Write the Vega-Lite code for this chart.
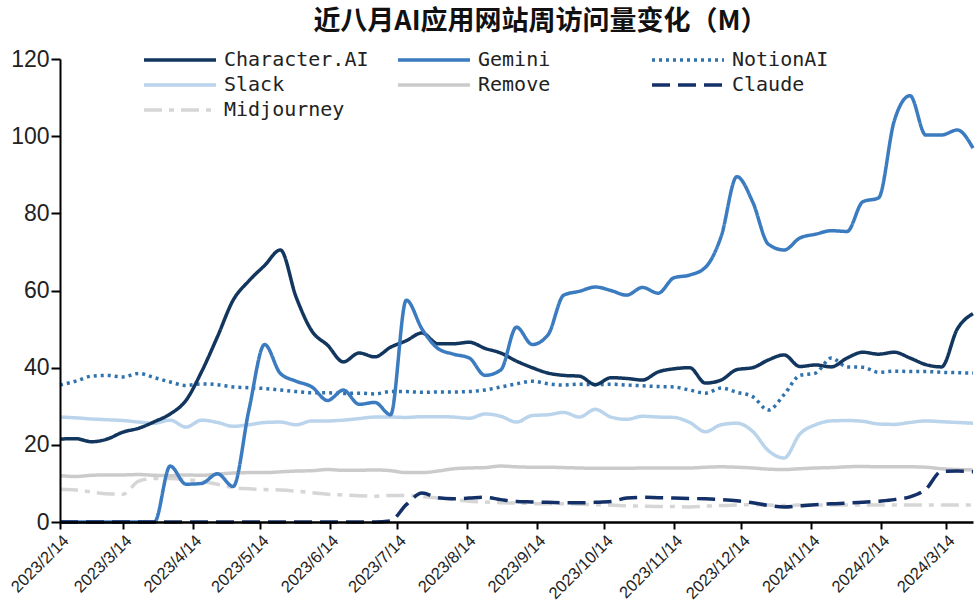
{
"$schema":"https://vega.github.io/schema/vega-lite/v6.json",
"width":913,"height":463,
"autosize":{"type":"none"},
"padding":{"left":60,"top":59,"right":3,"bottom":85},
"background":"white",
"title":{"text":"近八月AI应用网站周访问量变化（M）","font":"Noto Sans CJK SC","fontSize":27,"fontWeight":"bold","color":"#111111","anchor":"middle","frame":"group","dx":24,"offset":12},
"config":{"view":{"stroke":null},"font":"Liberation Sans"},
"data":{"values":[
{"d":"2023-02-14","s":"Midjourney","v":8.5},{"d":"2023-02-21","s":"Midjourney","v":8.3},{"d":"2023-02-28","s":"Midjourney","v":7.8},{"d":"2023-03-07","s":"Midjourney","v":7.3},{"d":"2023-03-14","s":"Midjourney","v":7.2},{"d":"2023-03-21","s":"Midjourney","v":10.6},{"d":"2023-03-28","s":"Midjourney","v":11.3},{"d":"2023-04-04","s":"Midjourney","v":11.3},{"d":"2023-04-11","s":"Midjourney","v":11},{"d":"2023-04-18","s":"Midjourney","v":10.5},{"d":"2023-04-25","s":"Midjourney","v":9.8},{"d":"2023-05-02","s":"Midjourney","v":8.9},{"d":"2023-05-09","s":"Midjourney","v":8.6},{"d":"2023-05-16","s":"Midjourney","v":8.4},{"d":"2023-05-23","s":"Midjourney","v":8.3},{"d":"2023-05-30","s":"Midjourney","v":8},{"d":"2023-06-06","s":"Midjourney","v":7.6},{"d":"2023-06-13","s":"Midjourney","v":7.2},{"d":"2023-06-20","s":"Midjourney","v":7},{"d":"2023-06-27","s":"Midjourney","v":6.8},{"d":"2023-07-04","s":"Midjourney","v":6.7},{"d":"2023-07-11","s":"Midjourney","v":6.9},{"d":"2023-07-18","s":"Midjourney","v":6.9},{"d":"2023-07-25","s":"Midjourney","v":6.6},{"d":"2023-08-01","s":"Midjourney","v":6.2},{"d":"2023-08-08","s":"Midjourney","v":5.8},{"d":"2023-08-15","s":"Midjourney","v":5.4},{"d":"2023-08-22","s":"Midjourney","v":5.2},{"d":"2023-08-29","s":"Midjourney","v":5},{"d":"2023-09-05","s":"Midjourney","v":4.9},{"d":"2023-09-12","s":"Midjourney","v":4.8},{"d":"2023-09-19","s":"Midjourney","v":4.7},{"d":"2023-09-26","s":"Midjourney","v":4.7},{"d":"2023-10-03","s":"Midjourney","v":4.6},{"d":"2023-10-10","s":"Midjourney","v":4.5},{"d":"2023-10-17","s":"Midjourney","v":4.4},{"d":"2023-10-24","s":"Midjourney","v":4.2},{"d":"2023-10-31","s":"Midjourney","v":4.1},{"d":"2023-11-07","s":"Midjourney","v":4},{"d":"2023-11-14","s":"Midjourney","v":4},{"d":"2023-11-21","s":"Midjourney","v":3.9},{"d":"2023-11-28","s":"Midjourney","v":4.1},{"d":"2023-12-05","s":"Midjourney","v":4.3},{"d":"2023-12-12","s":"Midjourney","v":4.4},{"d":"2023-12-19","s":"Midjourney","v":4.5},{"d":"2023-12-26","s":"Midjourney","v":4.4},{"d":"2024-01-02","s":"Midjourney","v":4.3},{"d":"2024-01-09","s":"Midjourney","v":4.4},{"d":"2024-01-16","s":"Midjourney","v":4.4},{"d":"2024-01-23","s":"Midjourney","v":4.4},{"d":"2024-01-30","s":"Midjourney","v":4.4},{"d":"2024-02-06","s":"Midjourney","v":4.4},{"d":"2024-02-13","s":"Midjourney","v":4.4},{"d":"2024-02-20","s":"Midjourney","v":4.4},{"d":"2024-02-27","s":"Midjourney","v":4.4},{"d":"2024-03-05","s":"Midjourney","v":4.4},{"d":"2024-03-12","s":"Midjourney","v":4.4},{"d":"2024-03-19","s":"Midjourney","v":4.4},{"d":"2024-03-26","s":"Midjourney","v":4.4},
{"d":"2023-02-14","s":"Remove","v":12},{"d":"2023-02-21","s":"Remove","v":11.8},{"d":"2023-02-28","s":"Remove","v":12.1},{"d":"2023-03-07","s":"Remove","v":12.2},{"d":"2023-03-14","s":"Remove","v":12.2},{"d":"2023-03-21","s":"Remove","v":12.3},{"d":"2023-03-28","s":"Remove","v":12.1},{"d":"2023-04-04","s":"Remove","v":12},{"d":"2023-04-11","s":"Remove","v":12.2},{"d":"2023-04-18","s":"Remove","v":12.1},{"d":"2023-04-25","s":"Remove","v":12.4},{"d":"2023-05-02","s":"Remove","v":12.7},{"d":"2023-05-09","s":"Remove","v":12.8},{"d":"2023-05-16","s":"Remove","v":12.8},{"d":"2023-05-23","s":"Remove","v":13},{"d":"2023-05-30","s":"Remove","v":13.2},{"d":"2023-06-06","s":"Remove","v":13.3},{"d":"2023-06-13","s":"Remove","v":13.6},{"d":"2023-06-20","s":"Remove","v":13.4},{"d":"2023-06-27","s":"Remove","v":13.4},{"d":"2023-07-04","s":"Remove","v":13.5},{"d":"2023-07-11","s":"Remove","v":13.3},{"d":"2023-07-18","s":"Remove","v":12.8},{"d":"2023-07-25","s":"Remove","v":12.8},{"d":"2023-08-01","s":"Remove","v":13.2},{"d":"2023-08-08","s":"Remove","v":13.8},{"d":"2023-08-15","s":"Remove","v":14},{"d":"2023-08-22","s":"Remove","v":14.1},{"d":"2023-08-29","s":"Remove","v":14.5},{"d":"2023-09-05","s":"Remove","v":14.3},{"d":"2023-09-12","s":"Remove","v":14.2},{"d":"2023-09-19","s":"Remove","v":14.2},{"d":"2023-09-26","s":"Remove","v":14.1},{"d":"2023-10-03","s":"Remove","v":14},{"d":"2023-10-10","s":"Remove","v":13.9},{"d":"2023-10-17","s":"Remove","v":13.9},{"d":"2023-10-24","s":"Remove","v":13.9},{"d":"2023-10-31","s":"Remove","v":14},{"d":"2023-11-07","s":"Remove","v":14},{"d":"2023-11-14","s":"Remove","v":14},{"d":"2023-11-21","s":"Remove","v":14},{"d":"2023-11-28","s":"Remove","v":14.2},{"d":"2023-12-05","s":"Remove","v":14.3},{"d":"2023-12-12","s":"Remove","v":14.2},{"d":"2023-12-19","s":"Remove","v":14},{"d":"2023-12-26","s":"Remove","v":13.7},{"d":"2024-01-02","s":"Remove","v":13.6},{"d":"2024-01-09","s":"Remove","v":13.8},{"d":"2024-01-16","s":"Remove","v":14},{"d":"2024-01-23","s":"Remove","v":14.1},{"d":"2024-01-30","s":"Remove","v":14.3},{"d":"2024-02-06","s":"Remove","v":14.4},{"d":"2024-02-13","s":"Remove","v":14.3},{"d":"2024-02-20","s":"Remove","v":14.3},{"d":"2024-02-27","s":"Remove","v":14.3},{"d":"2024-03-05","s":"Remove","v":14.2},{"d":"2024-03-12","s":"Remove","v":13.8},{"d":"2024-03-19","s":"Remove","v":13.6},{"d":"2024-03-26","s":"Remove","v":13.5},
{"d":"2023-02-14","s":"Slack","v":27.2},{"d":"2023-02-21","s":"Slack","v":27},{"d":"2023-02-28","s":"Slack","v":26.7},{"d":"2023-03-07","s":"Slack","v":26.5},{"d":"2023-03-14","s":"Slack","v":26.3},{"d":"2023-03-21","s":"Slack","v":25.9},{"d":"2023-03-28","s":"Slack","v":25.6},{"d":"2023-04-04","s":"Slack","v":26.4},{"d":"2023-04-11","s":"Slack","v":24.6},{"d":"2023-04-18","s":"Slack","v":26.4},{"d":"2023-04-25","s":"Slack","v":25.8},{"d":"2023-05-02","s":"Slack","v":24.8},{"d":"2023-05-09","s":"Slack","v":25.2},{"d":"2023-05-16","s":"Slack","v":25.8},{"d":"2023-05-23","s":"Slack","v":25.9},{"d":"2023-05-30","s":"Slack","v":25.2},{"d":"2023-06-06","s":"Slack","v":26.2},{"d":"2023-06-13","s":"Slack","v":26.2},{"d":"2023-06-20","s":"Slack","v":26.4},{"d":"2023-06-27","s":"Slack","v":26.8},{"d":"2023-07-04","s":"Slack","v":27.2},{"d":"2023-07-11","s":"Slack","v":27.2},{"d":"2023-07-18","s":"Slack","v":27.1},{"d":"2023-07-25","s":"Slack","v":27.3},{"d":"2023-08-01","s":"Slack","v":27.3},{"d":"2023-08-08","s":"Slack","v":27.2},{"d":"2023-08-15","s":"Slack","v":26.9},{"d":"2023-08-22","s":"Slack","v":28},{"d":"2023-08-29","s":"Slack","v":27.4},{"d":"2023-09-05","s":"Slack","v":25.9},{"d":"2023-09-12","s":"Slack","v":27.6},{"d":"2023-09-19","s":"Slack","v":27.8},{"d":"2023-09-26","s":"Slack","v":28.4},{"d":"2023-10-03","s":"Slack","v":27.2},{"d":"2023-10-10","s":"Slack","v":29.2},{"d":"2023-10-17","s":"Slack","v":27.2},{"d":"2023-10-24","s":"Slack","v":26.6},{"d":"2023-10-31","s":"Slack","v":27.4},{"d":"2023-11-07","s":"Slack","v":27.2},{"d":"2023-11-14","s":"Slack","v":27.1},{"d":"2023-11-21","s":"Slack","v":25.8},{"d":"2023-11-28","s":"Slack","v":23.4},{"d":"2023-12-05","s":"Slack","v":25.2},{"d":"2023-12-12","s":"Slack","v":25.6},{"d":"2023-12-19","s":"Slack","v":23.5},{"d":"2023-12-26","s":"Slack","v":18.5},{"d":"2024-01-02","s":"Slack","v":16.6},{"d":"2024-01-09","s":"Slack","v":22.8},{"d":"2024-01-16","s":"Slack","v":25.2},{"d":"2024-01-23","s":"Slack","v":26.2},{"d":"2024-01-30","s":"Slack","v":26.3},{"d":"2024-02-06","s":"Slack","v":26.1},{"d":"2024-02-13","s":"Slack","v":25.4},{"d":"2024-02-20","s":"Slack","v":25.3},{"d":"2024-02-27","s":"Slack","v":25.8},{"d":"2024-03-05","s":"Slack","v":26.2},{"d":"2024-03-12","s":"Slack","v":26},{"d":"2024-03-19","s":"Slack","v":25.8},{"d":"2024-03-26","s":"Slack","v":25.6},
{"d":"2023-02-14","s":"NotionAI","v":35.5},{"d":"2023-02-21","s":"NotionAI","v":36.5},{"d":"2023-02-28","s":"NotionAI","v":37.8},{"d":"2023-03-07","s":"NotionAI","v":38},{"d":"2023-03-14","s":"NotionAI","v":37.6},{"d":"2023-03-21","s":"NotionAI","v":38.5},{"d":"2023-03-28","s":"NotionAI","v":37.4},{"d":"2023-04-04","s":"NotionAI","v":36.3},{"d":"2023-04-11","s":"NotionAI","v":35.4},{"d":"2023-04-18","s":"NotionAI","v":35.8},{"d":"2023-04-25","s":"NotionAI","v":35.6},{"d":"2023-05-02","s":"NotionAI","v":35},{"d":"2023-05-09","s":"NotionAI","v":34.8},{"d":"2023-05-16","s":"NotionAI","v":34.6},{"d":"2023-05-23","s":"NotionAI","v":34.2},{"d":"2023-05-30","s":"NotionAI","v":33.8},{"d":"2023-06-06","s":"NotionAI","v":33.5},{"d":"2023-06-13","s":"NotionAI","v":33.5},{"d":"2023-06-20","s":"NotionAI","v":33.3},{"d":"2023-06-27","s":"NotionAI","v":33.4},{"d":"2023-07-04","s":"NotionAI","v":33.2},{"d":"2023-07-11","s":"NotionAI","v":33.8},{"d":"2023-07-18","s":"NotionAI","v":33.8},{"d":"2023-07-25","s":"NotionAI","v":33.6},{"d":"2023-08-01","s":"NotionAI","v":33.7},{"d":"2023-08-08","s":"NotionAI","v":33.7},{"d":"2023-08-15","s":"NotionAI","v":33.8},{"d":"2023-08-22","s":"NotionAI","v":34.2},{"d":"2023-08-29","s":"NotionAI","v":35},{"d":"2023-09-05","s":"NotionAI","v":35.8},{"d":"2023-09-12","s":"NotionAI","v":36.5},{"d":"2023-09-19","s":"NotionAI","v":35.8},{"d":"2023-09-26","s":"NotionAI","v":35.5},{"d":"2023-10-03","s":"NotionAI","v":35.7},{"d":"2023-10-10","s":"NotionAI","v":35.6},{"d":"2023-10-17","s":"NotionAI","v":35.7},{"d":"2023-10-24","s":"NotionAI","v":35.5},{"d":"2023-10-31","s":"NotionAI","v":35.3},{"d":"2023-11-07","s":"NotionAI","v":35.1},{"d":"2023-11-14","s":"NotionAI","v":35},{"d":"2023-11-21","s":"NotionAI","v":34.2},{"d":"2023-11-28","s":"NotionAI","v":33.4},{"d":"2023-12-05","s":"NotionAI","v":34.7},{"d":"2023-12-12","s":"NotionAI","v":33.6},{"d":"2023-12-19","s":"NotionAI","v":32.5},{"d":"2023-12-26","s":"NotionAI","v":29},{"d":"2024-01-02","s":"NotionAI","v":33},{"d":"2024-01-09","s":"NotionAI","v":38},{"d":"2024-01-16","s":"NotionAI","v":38.6},{"d":"2024-01-23","s":"NotionAI","v":42.5},{"d":"2024-01-30","s":"NotionAI","v":40.2},{"d":"2024-02-06","s":"NotionAI","v":40.1},{"d":"2024-02-13","s":"NotionAI","v":38.8},{"d":"2024-02-20","s":"NotionAI","v":39.1},{"d":"2024-02-27","s":"NotionAI","v":39},{"d":"2024-03-05","s":"NotionAI","v":39},{"d":"2024-03-12","s":"NotionAI","v":38.8},{"d":"2024-03-19","s":"NotionAI","v":38.7},{"d":"2024-03-26","s":"NotionAI","v":38.6},
{"d":"2023-02-14","s":"Character.AI","v":21.5},{"d":"2023-02-21","s":"Character.AI","v":21.6},{"d":"2023-02-28","s":"Character.AI","v":20.8},{"d":"2023-03-07","s":"Character.AI","v":21.5},{"d":"2023-03-14","s":"Character.AI","v":23.3},{"d":"2023-03-21","s":"Character.AI","v":24.3},{"d":"2023-03-28","s":"Character.AI","v":26},{"d":"2023-04-04","s":"Character.AI","v":28},{"d":"2023-04-11","s":"Character.AI","v":31.5},{"d":"2023-04-18","s":"Character.AI","v":39},{"d":"2023-04-25","s":"Character.AI","v":48},{"d":"2023-05-02","s":"Character.AI","v":57.5},{"d":"2023-05-09","s":"Character.AI","v":62.5},{"d":"2023-05-16","s":"Character.AI","v":66.5},{"d":"2023-05-23","s":"Character.AI","v":70.5},{"d":"2023-05-30","s":"Character.AI","v":58.3},{"d":"2023-06-06","s":"Character.AI","v":49.5},{"d":"2023-06-13","s":"Character.AI","v":45.8},{"d":"2023-06-20","s":"Character.AI","v":41.5},{"d":"2023-06-27","s":"Character.AI","v":43.8},{"d":"2023-07-04","s":"Character.AI","v":42.8},{"d":"2023-07-11","s":"Character.AI","v":45.3},{"d":"2023-07-18","s":"Character.AI","v":47},{"d":"2023-07-25","s":"Character.AI","v":49},{"d":"2023-08-01","s":"Character.AI","v":46.2},{"d":"2023-08-08","s":"Character.AI","v":46.2},{"d":"2023-08-15","s":"Character.AI","v":46.6},{"d":"2023-08-22","s":"Character.AI","v":45},{"d":"2023-08-29","s":"Character.AI","v":43.8},{"d":"2023-09-05","s":"Character.AI","v":41.7},{"d":"2023-09-12","s":"Character.AI","v":40},{"d":"2023-09-19","s":"Character.AI","v":38.6},{"d":"2023-09-26","s":"Character.AI","v":38},{"d":"2023-10-03","s":"Character.AI","v":37.8},{"d":"2023-10-10","s":"Character.AI","v":35.6},{"d":"2023-10-17","s":"Character.AI","v":37.4},{"d":"2023-10-24","s":"Character.AI","v":37.2},{"d":"2023-10-31","s":"Character.AI","v":36.8},{"d":"2023-11-07","s":"Character.AI","v":38.9},{"d":"2023-11-14","s":"Character.AI","v":39.7},{"d":"2023-11-21","s":"Character.AI","v":40},{"d":"2023-11-28","s":"Character.AI","v":36},{"d":"2023-12-05","s":"Character.AI","v":36.8},{"d":"2023-12-12","s":"Character.AI","v":39.5},{"d":"2023-12-19","s":"Character.AI","v":40},{"d":"2023-12-26","s":"Character.AI","v":42},{"d":"2024-01-02","s":"Character.AI","v":43.3},{"d":"2024-01-09","s":"Character.AI","v":40.3},{"d":"2024-01-16","s":"Character.AI","v":40.7},{"d":"2024-01-23","s":"Character.AI","v":40.2},{"d":"2024-01-30","s":"Character.AI","v":42.5},{"d":"2024-02-06","s":"Character.AI","v":44},{"d":"2024-02-13","s":"Character.AI","v":43.5},{"d":"2024-02-20","s":"Character.AI","v":44},{"d":"2024-02-27","s":"Character.AI","v":42.5},{"d":"2024-03-05","s":"Character.AI","v":40.8},{"d":"2024-03-12","s":"Character.AI","v":40.2},{"d":"2024-03-19","s":"Character.AI","v":50},{"d":"2024-03-26","s":"Character.AI","v":54},
{"d":"2023-02-14","s":"Gemini","v":0},{"d":"2023-02-21","s":"Gemini","v":0},{"d":"2023-02-28","s":"Gemini","v":0},{"d":"2023-03-07","s":"Gemini","v":0},{"d":"2023-03-14","s":"Gemini","v":0},{"d":"2023-03-21","s":"Gemini","v":0},{"d":"2023-03-28","s":"Gemini","v":0},{"d":"2023-04-04","s":"Gemini","v":14.5},{"d":"2023-04-11","s":"Gemini","v":9.8},{"d":"2023-04-18","s":"Gemini","v":10},{"d":"2023-04-25","s":"Gemini","v":12.5},{"d":"2023-05-02","s":"Gemini","v":9.2},{"d":"2023-05-09","s":"Gemini","v":29},{"d":"2023-05-16","s":"Gemini","v":46},{"d":"2023-05-23","s":"Gemini","v":38.5},{"d":"2023-05-30","s":"Gemini","v":36.5},{"d":"2023-06-06","s":"Gemini","v":35},{"d":"2023-06-13","s":"Gemini","v":31.5},{"d":"2023-06-20","s":"Gemini","v":34.2},{"d":"2023-06-27","s":"Gemini","v":30.5},{"d":"2023-07-04","s":"Gemini","v":31},{"d":"2023-07-11","s":"Gemini","v":27.8},{"d":"2023-07-18","s":"Gemini","v":57.5},{"d":"2023-07-25","s":"Gemini","v":50},{"d":"2023-08-01","s":"Gemini","v":45},{"d":"2023-08-08","s":"Gemini","v":43.5},{"d":"2023-08-15","s":"Gemini","v":42.5},{"d":"2023-08-22","s":"Gemini","v":38},{"d":"2023-08-29","s":"Gemini","v":39.4},{"d":"2023-09-05","s":"Gemini","v":50.5},{"d":"2023-09-12","s":"Gemini","v":46},{"d":"2023-09-19","s":"Gemini","v":48.5},{"d":"2023-09-26","s":"Gemini","v":58.8},{"d":"2023-10-03","s":"Gemini","v":59.8},{"d":"2023-10-10","s":"Gemini","v":60.9},{"d":"2023-10-17","s":"Gemini","v":60},{"d":"2023-10-24","s":"Gemini","v":58.8},{"d":"2023-10-31","s":"Gemini","v":60.8},{"d":"2023-11-07","s":"Gemini","v":59.3},{"d":"2023-11-14","s":"Gemini","v":63.3},{"d":"2023-11-21","s":"Gemini","v":64},{"d":"2023-11-28","s":"Gemini","v":66},{"d":"2023-12-05","s":"Gemini","v":74},{"d":"2023-12-12","s":"Gemini","v":89.5},{"d":"2023-12-19","s":"Gemini","v":83},{"d":"2023-12-26","s":"Gemini","v":72},{"d":"2024-01-02","s":"Gemini","v":70.5},{"d":"2024-01-09","s":"Gemini","v":73.6},{"d":"2024-01-16","s":"Gemini","v":74.6},{"d":"2024-01-23","s":"Gemini","v":75.5},{"d":"2024-01-30","s":"Gemini","v":75.3},{"d":"2024-02-06","s":"Gemini","v":83},{"d":"2024-02-13","s":"Gemini","v":84},{"d":"2024-02-20","s":"Gemini","v":104},{"d":"2024-02-27","s":"Gemini","v":110.5},{"d":"2024-03-05","s":"Gemini","v":100.3},{"d":"2024-03-12","s":"Gemini","v":100.3},{"d":"2024-03-19","s":"Gemini","v":101.6},{"d":"2024-03-26","s":"Gemini","v":96.9},
{"d":"2023-02-14","s":"Claude","v":0},{"d":"2023-02-21","s":"Claude","v":0},{"d":"2023-02-28","s":"Claude","v":0},{"d":"2023-03-07","s":"Claude","v":0},{"d":"2023-03-14","s":"Claude","v":0},{"d":"2023-03-21","s":"Claude","v":0},{"d":"2023-03-28","s":"Claude","v":0},{"d":"2023-04-04","s":"Claude","v":0},{"d":"2023-04-11","s":"Claude","v":0},{"d":"2023-04-18","s":"Claude","v":0},{"d":"2023-04-25","s":"Claude","v":0},{"d":"2023-05-02","s":"Claude","v":0},{"d":"2023-05-09","s":"Claude","v":0},{"d":"2023-05-16","s":"Claude","v":0},{"d":"2023-05-23","s":"Claude","v":0},{"d":"2023-05-30","s":"Claude","v":0},{"d":"2023-06-06","s":"Claude","v":0},{"d":"2023-06-13","s":"Claude","v":0},{"d":"2023-06-20","s":"Claude","v":0},{"d":"2023-06-27","s":"Claude","v":0},{"d":"2023-07-04","s":"Claude","v":0},{"d":"2023-07-11","s":"Claude","v":0.3},{"d":"2023-07-18","s":"Claude","v":4.5},{"d":"2023-07-25","s":"Claude","v":7.5},{"d":"2023-08-01","s":"Claude","v":6.3},{"d":"2023-08-08","s":"Claude","v":6},{"d":"2023-08-15","s":"Claude","v":6.2},{"d":"2023-08-22","s":"Claude","v":6.4},{"d":"2023-08-29","s":"Claude","v":5.8},{"d":"2023-09-05","s":"Claude","v":5.3},{"d":"2023-09-12","s":"Claude","v":5.2},{"d":"2023-09-19","s":"Claude","v":5.1},{"d":"2023-09-26","s":"Claude","v":5},{"d":"2023-10-03","s":"Claude","v":5},{"d":"2023-10-10","s":"Claude","v":5.1},{"d":"2023-10-17","s":"Claude","v":5.3},{"d":"2023-10-24","s":"Claude","v":6.2},{"d":"2023-10-31","s":"Claude","v":6.4},{"d":"2023-11-07","s":"Claude","v":6.3},{"d":"2023-11-14","s":"Claude","v":6.2},{"d":"2023-11-21","s":"Claude","v":6.1},{"d":"2023-11-28","s":"Claude","v":6},{"d":"2023-12-05","s":"Claude","v":5.8},{"d":"2023-12-12","s":"Claude","v":5.5},{"d":"2023-12-19","s":"Claude","v":5},{"d":"2023-12-26","s":"Claude","v":4.3},{"d":"2024-01-02","s":"Claude","v":3.9},{"d":"2024-01-09","s":"Claude","v":4.2},{"d":"2024-01-16","s":"Claude","v":4.5},{"d":"2024-01-23","s":"Claude","v":4.7},{"d":"2024-01-30","s":"Claude","v":4.9},{"d":"2024-02-06","s":"Claude","v":5.1},{"d":"2024-02-13","s":"Claude","v":5.4},{"d":"2024-02-20","s":"Claude","v":5.8},{"d":"2024-02-27","s":"Claude","v":6.5},{"d":"2024-03-05","s":"Claude","v":8.5},{"d":"2024-03-12","s":"Claude","v":13.1},{"d":"2024-03-19","s":"Claude","v":13.2},{"d":"2024-03-26","s":"Claude","v":13}
]},
"mark":{"type":"line","interpolate":"monotone","strokeWidth":3.5},
"encoding":{
"x":{"field":"d","type":"temporal",
"scale":{"type":"utc","nice":false,"domain":[{"year":2023,"month":2,"date":14,"utc":true},{"year":2024,"month":3,"date":26,"utc":true}]},
"axis":{"title":null,"grid":false,"format":"%Y/%-m/%-d","labelAngle":-45,"labelFont":"Liberation Sans","labelFontSize":16.5,"labelColor":"#222222","labelPadding":3,"domainColor":"#000000","domainWidth":2.5,"tickColor":"#000000","tickWidth":2,"tickSize":7,"zindex":1,"labelOverlap":false,
"values":[{"year":2023,"month":2,"date":14,"utc":true},{"year":2023,"month":3,"date":14,"utc":true},{"year":2023,"month":4,"date":14,"utc":true},{"year":2023,"month":5,"date":14,"utc":true},{"year":2023,"month":6,"date":14,"utc":true},{"year":2023,"month":7,"date":14,"utc":true},{"year":2023,"month":8,"date":14,"utc":true},{"year":2023,"month":9,"date":14,"utc":true},{"year":2023,"month":10,"date":14,"utc":true},{"year":2023,"month":11,"date":14,"utc":true},{"year":2023,"month":12,"date":14,"utc":true},{"year":2024,"month":1,"date":14,"utc":true},{"year":2024,"month":2,"date":14,"utc":true},{"year":2024,"month":3,"date":14,"utc":true}]}},
"y":{"field":"v","type":"quantitative","scale":{"domain":[0,120],"nice":false},
"axis":{"title":null,"grid":false,"values":[0,20,40,60,80,100,120],"labelFont":"Liberation Sans","labelFontSize":23,"labelColor":"#222222","labelPadding":2,"domainColor":"#000000","domainWidth":2,"tickColor":"#000000","tickWidth":2,"tickSize":9,"zindex":1}},
"color":{"field":"s","type":"nominal",
"scale":{"domain":["Character.AI","Gemini","NotionAI","Slack","Remove","Claude","Midjourney"],"range":["#12365e","#3b7bbf","#2f72ad","#bad4ec","#cbcbcb","#143069","#d6d6d6"]},
"legend":{"orient":"none","legendX":109,"legendY":-10,"direction":"horizontal","columns":3,"title":null,"symbolType":"M-4,0H4","symbolSize":324,"symbolStrokeWidth":3.5,"labelFont":"DejaVu Sans Mono","labelFontSize":20,"labelColor":"#222222","columnPadding":22,"rowPadding":4,"gridAlign":"all","labelOffset":33,"padding":0,"labelLimit":300}},
"strokeDash":{"field":"s","type":"nominal",
"scale":{"domain":["Character.AI","Gemini","NotionAI","Slack","Remove","Claude","Midjourney"],"range":[[1,0],[1,0],[3,4],[1,0],[1,0],[18,8],[18,7,5,7]]}}
}
}
